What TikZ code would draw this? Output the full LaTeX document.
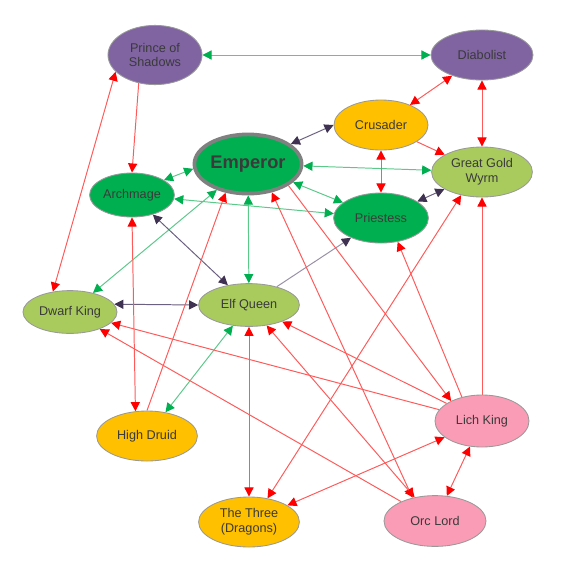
\documentclass[tikz,border=0pt]{standalone}
\usepackage{fontspec}
\setmainfont{Liberation Sans}
\usepackage{xcolor}
\usetikzlibrary{arrows.meta,positioning,shapes.geometric,backgrounds}

\definecolor{purplefill}{HTML}{8064A2}
\definecolor{goldfill}{HTML}{FFC000}
\definecolor{greenfill}{HTML}{00B050}
\definecolor{limefill}{HTML}{A9CB5E}
\definecolor{pinkfill}{HTML}{FA9CB5}
\definecolor{textgray}{HTML}{3A3A3A}
\definecolor{redline}{HTML}{FF5A5A}
\definecolor{redtip}{HTML}{FF0000}
\definecolor{greenline}{HTML}{5CC98B}
\definecolor{greentip}{HTML}{00B050}
\definecolor{darkline}{HTML}{6A6080}
\definecolor{darktip}{HTML}{3F3151}

\begin{document}
\begin{tikzpicture}[
    x=0.025cm, y=-0.025cm,
    faction/.style={ellipse, draw=gray!80, line width=0.6pt, inner sep=0pt,
                    minimum width=2.4cm, minimum height=1.25cm,
                    font=\fontsize{9}{10.5}\selectfont, text=textgray, align=center},
    purplenode/.style={faction, fill=purplefill},
    goldnode/.style={faction, fill=goldfill},
    greennode/.style={faction, fill=greenfill},
    limenode/.style={faction, fill=limefill},
    pinknode/.style={faction, fill=pinkfill},
    redto/.style={draw=redline, line width=0.7pt, -{Triangle[color=redtip, length=6.5pt, width=6.5pt]}},
    redbi/.style={draw=redline, line width=0.7pt,
                  {Triangle[color=redtip, length=6.5pt, width=6.5pt]}-{Triangle[color=redtip, length=6.5pt, width=6.5pt]}},
    greenbi/.style={draw=greenline, line width=0.7pt,
                    {Triangle[color=greentip, length=6.5pt, width=6.5pt]}-{Triangle[color=greentip, length=6.5pt, width=6.5pt]}},
    darkto/.style={draw=darkline!70, line width=0.7pt, -{Triangle[color=darktip, length=6.5pt, width=6.5pt]}},
    darkbi/.style={draw=darkline, line width=0.7pt,
                   {Triangle[color=darktip, length=6.5pt, width=6.5pt]}-{Triangle[color=darktip, length=6.5pt, width=6.5pt]}}
]
    \useasboundingbox (0,0) rectangle (580,588);

    % Top row
    \node[purplenode, minimum width=2.35cm, minimum height=1.48cm] (prince) at (155,55) {Prince of\\Shadows};
    \node[purplenode, minimum width=2.55cm] (diabolist) at (482,55) {Diabolist};
    \node[goldnode, minimum width=2.35cm] (crusader) at (381,125) {Crusader};

    % Centre
    \node[greennode, draw=gray, line width=2.6pt, minimum width=2.68cm, minimum height=1.48cm,
          font=\bfseries\fontsize{13}{15}\selectfont] (emperor) at (248,164) {Emperor};
    \node[limenode, minimum width=2.52cm] (wyrm) at (482,172) {Great Gold\\Wyrm};
    \node[greennode, minimum width=2.12cm, minimum height=1.1cm] (archmage) at (132,195) {Archmage};
    \node[greennode, minimum width=2.37cm] (priestess) at (381,218) {Priestess};

    % Middle row
    \node[limenode, minimum width=2.35cm, minimum height=1.07cm] (dwarf) at (70,312) {Dwarf King};
    \node[limenode, minimum width=2.52cm, minimum height=1.07cm] (elf) at (249,305) {Elf Queen};

    % Bottom
    \node[goldnode, minimum width=2.52cm] (druid) at (147,436) {High Druid};
    \node[pinknode, minimum width=2.35cm, minimum height=1.3cm] (lich) at (482,421) {Lich King};
    \node[goldnode, minimum width=2.52cm] (three) at (249,522) {The Three\\(Dragons)};
    \node[pinknode, minimum width=2.55cm, minimum height=1.27cm] (orc) at (435,521) {Orc Lord};

    \begin{pgfonlayer}{background}
    % Green links
    \draw[greenbi] (prince) -- (diabolist);
    \draw[greenbi] (emperor) -- (wyrm);
    \draw[greenbi] (emperor) -- (priestess);
    \draw[greenbi] (emperor.185) -- (archmage.25);
    \draw[greenbi] (emperor) -- (elf);
    \draw[greenbi] (emperor) -- (dwarf);
    \draw[greenbi] (archmage) -- (priestess);
    \draw[greenbi] (elf) -- (druid);

    % Dark links
    \draw[darkbi] (crusader.west) -- (emperor.25);
    \draw[darkbi] (archmage) -- (elf);
    \draw[darkbi] (dwarf.10) -- (elf.west);
    \draw[darkbi] (wyrm) -- (priestess);
    \draw[darkto] (elf) -- (priestess);

    % Red links, both ways
    \draw[redbi] (prince.203) -- (dwarf.130);
    \draw[redbi] (diabolist) -- (crusader);
    \draw[redbi] (diabolist) -- (wyrm);
    \draw[redbi] (crusader) -- (priestess);
    \draw[redbi] (archmage.south) -- (druid.115);
    \draw[redbi] (emperor.310) -- (orc.134);
    \draw[redbi] (elf) -- (three);
    \draw[redbi] (elf) -- (orc);
    \draw[redbi] (lich) -- (orc);
    \draw[redbi] (three.52) -- (wyrm.228);
    \draw[redbi] (lich) -- (three);

    % Red links, one way
    \draw[redto] (prince.240) -- (archmage.north);
    \draw[redto] (crusader) -- (wyrm);
    \draw[redto] (druid.north) -- (emperor.232);
    \draw[redto] (emperor.332) -- (lich.147);
    \draw[redto] (lich) -- (elf);
    \draw[redto] (lich) -- (dwarf);
    \draw[redto] (orc) -- (dwarf);
    \draw[redto] (lich) -- (wyrm);
    \draw[redto] (lich.130) -- (priestess.305);
    \end{pgfonlayer}
\end{tikzpicture}
\end{document}
